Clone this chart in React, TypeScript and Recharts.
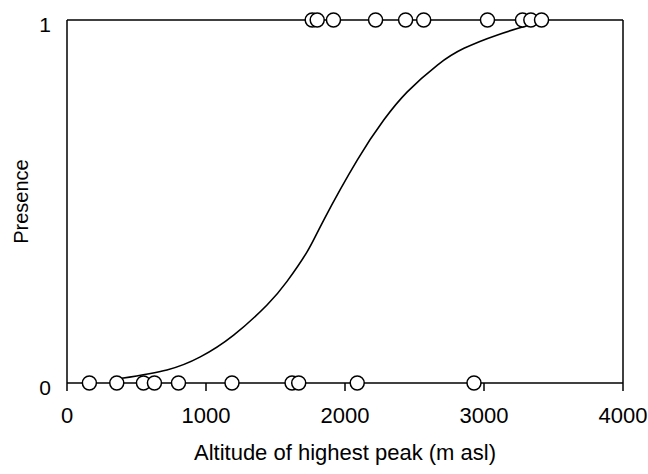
import React from 'react';
import { ComposedChart, Scatter, Line, XAxis, YAxis, ReferenceLine } from 'recharts';

const presentAltitudes = [1764, 1800, 1917, 2220, 2436, 2566, 3025, 3277, 3337, 3414];
const absentAltitudes = [161, 358, 550, 629, 802, 1187, 1619, 1667, 2088, 2928];
const curveX = [394, 719, 959, 1199, 1439, 1583, 1728, 1847, 2088, 2280, 2448, 2665, 2856, 3097, 3289, 3385];
const curveY = [0.013, 0.036, 0.072, 0.132, 0.215, 0.28, 0.362, 0.449, 0.614, 0.725, 0.802, 0.876, 0.922, 0.959, 0.982, 0.995];
const xTicks = [0, 1000, 2000, 3000, 4000];
const yTicks = [0, 1];

const presentData = presentAltitudes.map((x) => ({ x, y: 1 }));
const absentData = absentAltitudes.map((x) => ({ x, y: 0 }));
const curveData = curveX.map((x, i) => ({ x, y: curveY[i] }));

const font = { fontFamily: '"Liberation Sans", Arial, sans-serif', fontSize: 22, fill: '#000' };

const Dot = (p: any) => <circle cx={p.cx} cy={p.cy} r={7} fill="#fff" stroke="#000" strokeWidth={1.5} />;

export default function App() {
  return (
    <div style={{ width: 648, height: 474 }}>
      <style>{`body{margin:0}`}</style>
      <ComposedChart width={648} height={474} margin={{ top: 20, right: 25, left: 0, bottom: 0 }}>
        <XAxis
          type="number"
          dataKey="x"
          domain={[0, 4000]}
          ticks={xTicks}
          allowDataOverflow
          height={91}
          tickSize={8}
          tickMargin={16}
          axisLine={{ stroke: '#000', strokeWidth: 1.5 }}
          tickLine={{ stroke: '#000', strokeWidth: 1.5 }}
          tick={font}
          label={{ value: 'Altitude of highest peak (m asl)', position: 'insideBottom', offset: 14, style: font }}
        />
        <YAxis
          type="number"
          dataKey="y"
          domain={[0, 1]}
          ticks={yTicks}
          width={67}
          tickSize={8}
          tickMargin={8}
          tickLine={false}
          axisLine={{ stroke: '#000', strokeWidth: 1.5 }}
          tick={{ ...font, fontSize: 21, dy: 5 }}
          label={{ value: 'Presence', angle: -90, position: 'insideLeft', offset: 21, style: { ...font, fontSize: 20, textAnchor: 'middle' } }}
        />
        <ReferenceLine y={1} stroke="#000" strokeWidth={1.5} />
        <ReferenceLine x={4000} stroke="#000" strokeWidth={1.5} />
        <Line data={curveData} dataKey="y" type="natural" stroke="#000" strokeWidth={1.6} dot={false} isAnimationActive={false} />
        <Scatter data={presentData} dataKey="y" shape={Dot} isAnimationActive={false} />
        <Scatter data={absentData} dataKey="y" shape={Dot} isAnimationActive={false} />
      </ComposedChart>
    </div>
  );
}
